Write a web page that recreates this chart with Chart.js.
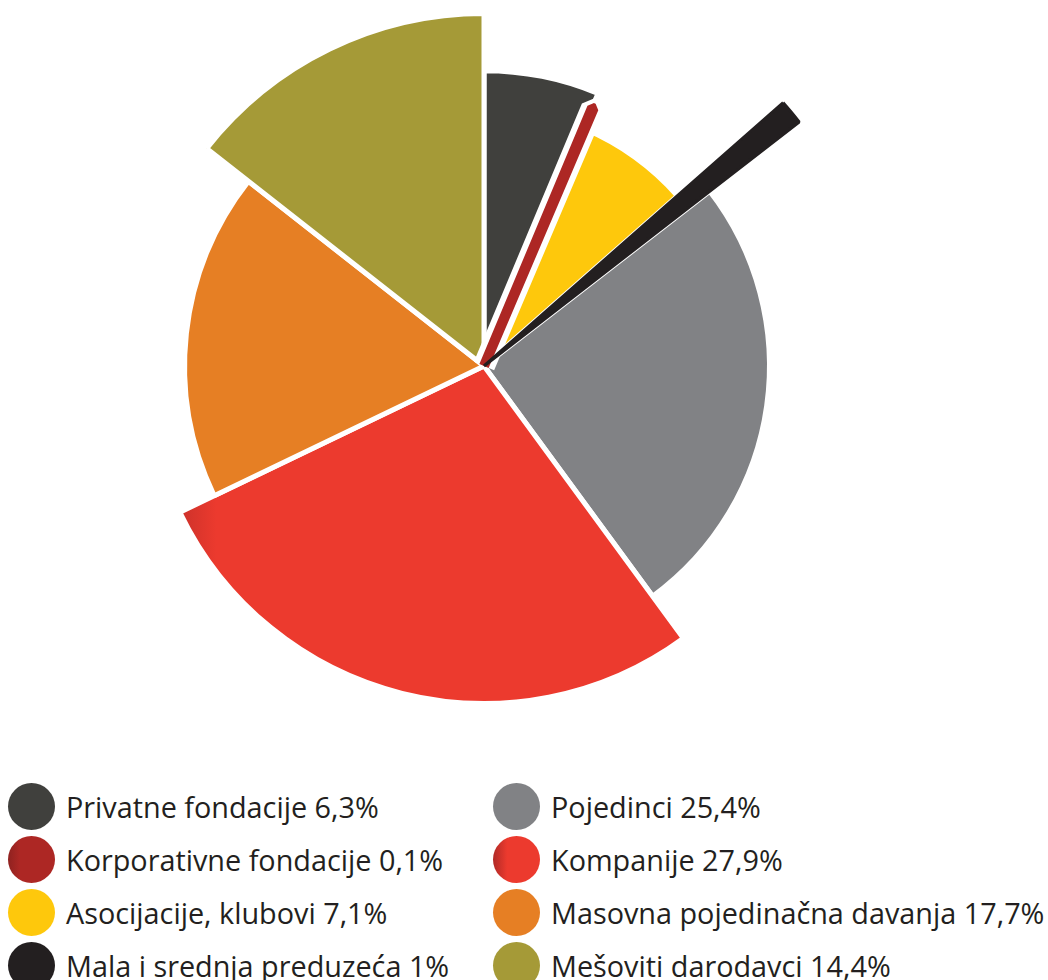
<!DOCTYPE html>
<html lang="sr">
<head>
<meta charset="utf-8">
<title>Izvori finansiranja</title>
<script src="https://cdn.jsdelivr.net/npm/chart.js@4.4.0/dist/chart.umd.min.js"></script>
<style>
  html, body { margin: 0; padding: 0; background: #fff; }
  body { width: 1048px; height: 980px; position: relative; overflow: hidden; font-family: "Open Sans", sans-serif; }
  .chart-box { position: absolute; left: 0; top: 0; width: 968px; height: 732px; }
  .legend { position: absolute; left: 8px; top: 780px; display: grid; grid-template-columns: 485px auto; grid-auto-flow: column; grid-template-rows: repeat(4, 53px); }
  .legend-item { display: flex; align-items: center; font-size: 28.8px; color: #231f20; white-space: nowrap; }
  .legend-item .dot { width: 47px; height: 47px; border-radius: 50%; margin-right: 11px; flex: none; }
</style>
</head>
<body>
<div class="chart-box"><canvas id="pieChart"></canvas></div>
<div class="legend" id="legend"></div>

<script>
// podaci
const categories = [
  "Privatne fondacije",
  "Korporativne fondacije",
  "Asocijacije, klubovi",
  "Mala i srednja preduzeća",
  "Pojedinci",
  "Kompanije",
  "Masovna pojedinačna davanja",
  "Mešoviti darodavci",
];
const shares = [6.3, 0.1, 7.1, 1, 25.4, 27.9, 17.7, 14.4];

// izgled
const colors = ["#40403d", "#ad2724", "#fec80c", "#231f20", "#818285", "#ec3a2e", "#e67f24", "#a59a37"];
const reach = [0.807, 0.765, 0.704, 1.089, 0.78, 0.922, 0.818, 0.963]; // radius of each slice vs. base radius
const barPad = [0, 10, 0, 3, 0, 0, 0, 0]; // thin slices get drawn as bars
const clearance = [0, 22, 0, 0, 0, 0, 0, 0];
const clear = "rgba(0,0,0,0)";

// legenda
const legend = document.getElementById("legend");
categories.forEach((name, i) => {
  const item = document.createElement("div");
  item.className = "legend-item";
  let bg = colors[i];
  if (i === 5) bg = "linear-gradient(90deg, #b02a27 0%, #ec3a2e 30%)";
  if (i === 1) bg = "linear-gradient(90deg, #8f2220 0%, #ad2724 25%)";
  item.innerHTML = `<span class="dot" style="background:${bg}"></span><span>${name} ${String(shares[i]).replace(".", ",")}%</span>`;
  legend.appendChild(item);
});

const isThin = (i) => barPad[i] > 0;

function redFill(context) {
  const i = context.dataIndex;
  const chart = context.chart;
  const a = chart.chartArea;
  if (i !== 5 || !a) return colors[i];
  const baseR = Math.min(a.right - a.left, a.bottom - a.top) / 2;
  const x0 = (a.left + a.right) / 2 - baseR * reach[5];
  const g = chart.ctx.createLinearGradient(x0, 0, x0 + 70, 0);
  g.addColorStop(0, "#b02a27");
  g.addColorStop(1, "#ec3a2e");
  return g;
}

// svaki isečak dobija svoj poluprečnik
const reachPlugin = {
  id: "reach",
  beforeDatasetsDraw(chart) {
    const a = chart.chartArea;
    const baseR = Math.min(a.right - a.left, a.bottom - a.top) / 2;
    chart.data.datasets.forEach((ds, d) => {
      chart.getDatasetMeta(d).data.forEach((arc, i) => {
        arc.innerRadius = 0;
        arc.outerRadius = baseR * reach[i];
      });
    });
  },
};

new Chart(document.getElementById("pieChart"), {
  type: "pie",
  data: {
    labels: categories,
    datasets: [
      {
        // tanki isečci, na vrhu
        data: shares,
        order: 0,
        clip: false,
        backgroundColor: colors.map((c, i) => (isThin(i) ? c : clear)),
        borderColor: colors.map((c, i) => (isThin(i) ? c : clear)),
        borderWidth: barPad,
        borderJoinStyle: "bevel",
      },
      {
        // beli razmak oko tankih isečaka
        data: shares,
        order: 1,
        clip: false,
        backgroundColor: colors.map((c, i) => (clearance[i] ? "#fff" : clear)),
        borderColor: "#fff",
        borderWidth: clearance,
        borderJoinStyle: "bevel",
      },
      {
        data: shares,
        order: 2,
        clip: false,
        backgroundColor: (ctx) => (isThin(ctx.dataIndex) ? clear : redFill(ctx)),
        borderColor: "#fff",
        borderWidth: colors.map((c, i) => (isThin(i) ? 0 : 5)),
      },
    ],
  },
  options: {
    responsive: true,
    maintainAspectRatio: false,
    animation: false,
    events: [],
    layout: { padding: 0 },
    plugins: {
      legend: { display: false },
      tooltip: { enabled: false },
    },
  },
  plugins: [reachPlugin],
});
</script>
</body>
</html>
